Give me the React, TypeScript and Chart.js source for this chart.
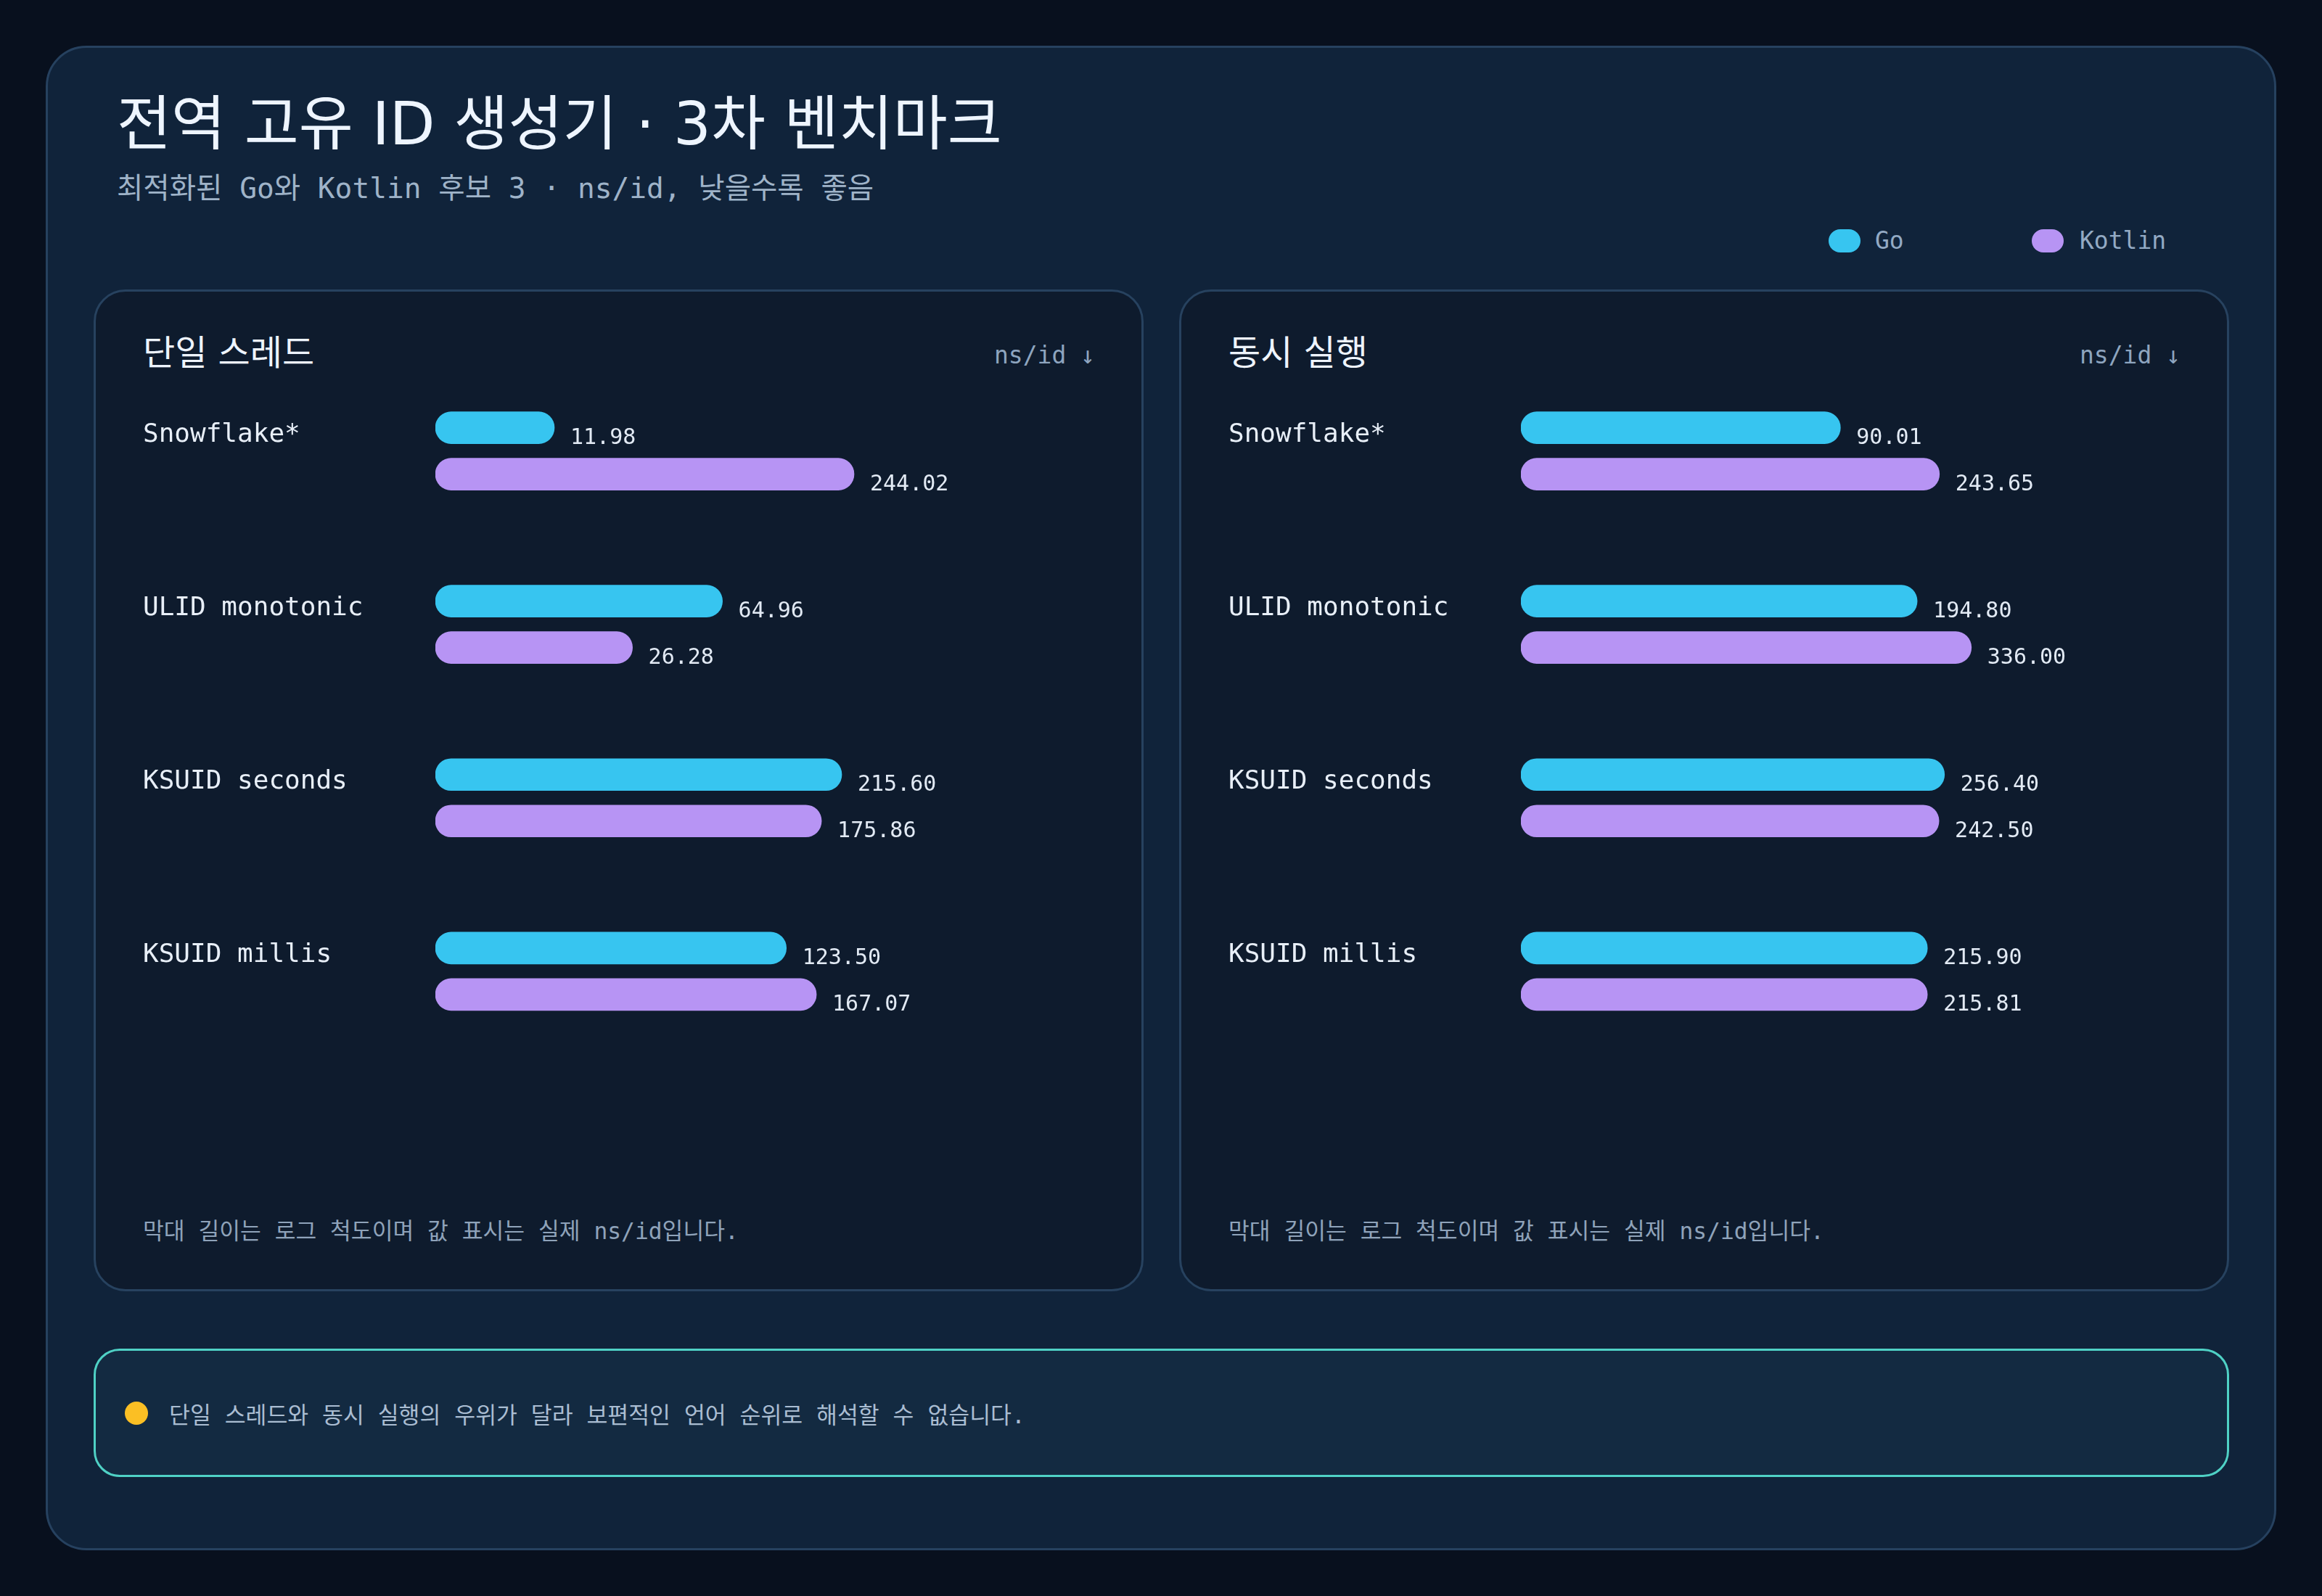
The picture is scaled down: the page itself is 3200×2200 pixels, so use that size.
import React, { useEffect, useRef } from 'react';
import { Chart, registerables } from 'chart.js';

Chart.register(...registerables);

// ---------- data ----------
const categories = ['Snowflake*', 'ULID monotonic', 'KSUID seconds', 'KSUID millis'];
const seriesNames = ['Go', 'Kotlin'];
const singleThreadGo = [11.98, 64.96, 215.6, 123.5];
const singleThreadKotlin = [244.02, 26.28, 175.86, 167.07];
const concurrentGo = [90.01, 194.8, 256.4, 215.9];
const concurrentKotlin = [243.65, 336.0, 242.5, 215.81];

const titleText = '전역 고유 ID 생성기 · 3차 벤치마크';
const subtitleText = '최적화된 Go와 Kotlin 후보 3 · ns/id, 낮을수록 좋음';
const panelTitles = ['단일 스레드', '동시 실행'];
const unitText = 'ns/id ↓';
const footnoteText = '막대 길이는 로그 척도이며 값 표시는 실제 ns/id입니다.';
const noteText = '단일 스레드와 동시 실행의 우위가 달라 보편적인 언어 순위로 해석할 수 없습니다.';

// ---------- style ----------
const GO_COLOR = '#37c5f0';
const KOTLIN_COLOR = '#b794f4';
const MONO = "'DejaVu Sans Mono', 'Noto Sans CJK KR', monospace";
const SANS = "'DejaVu Sans', 'Noto Sans CJK KR', sans-serif";
const X_MIN = 3.62;
const X_MAX = 2578;

const valueLabelPlugin = {
  id: 'valueLabels',
  afterDatasetsDraw(chart: any) {
    const ctx = chart.ctx;
    ctx.save();
    ctx.font = `30px ${MONO}`;
    ctx.fillStyle = '#e2eaf4';
    ctx.textAlign = 'left';
    ctx.textBaseline = 'alphabetic';
    chart.data.datasets.forEach((ds: any, di: number) => {
      const meta = chart.getDatasetMeta(di);
      meta.data.forEach((bar: any, i: number) => {
        const v = ds.data[i] as number;
        ctx.fillText(v.toFixed(2), bar.x + 22, bar.y + 22);
      });
    });
    ctx.restore();
  },
};

function BarPanel({ go, kotlin }: { go: number[]; kotlin: number[] }) {
  const ref = useRef<HTMLCanvasElement | null>(null);
  useEffect(() => {
    if (!ref.current) return;
    const chart = new Chart(ref.current, {
      type: 'bar',
      data: {
        labels: categories,
        datasets: [
          {
            label: seriesNames[0],
            data: go,
            backgroundColor: GO_COLOR,
            borderRadius: 22,
            borderSkipped: false,
            barThickness: 64,
            maxBarThickness: 44,
          },
          {
            label: seriesNames[1],
            data: kotlin,
            backgroundColor: KOTLIN_COLOR,
            borderRadius: 22,
            borderSkipped: false,
            barThickness: 64,
            maxBarThickness: 44,
          },
        ],
      },
      options: {
        indexAxis: 'y',
        responsive: false,
        animation: false,
        devicePixelRatio: 1,
        layout: { padding: { left: 47, right: 50, top: 22, bottom: 18 } },
        plugins: { legend: { display: false }, tooltip: { enabled: false } },
        scales: {
          x: { type: 'logarithmic', min: X_MIN, max: X_MAX, display: false },
          y: {
            grid: { display: false },
            border: { display: false },
            ticks: {
              color: '#e8eff8',
              font: { family: MONO, size: 36 },
              crossAlign: 'far',
              labelOffset: -22,
              padding: 0,
              autoSkip: false,
            },
            afterFit: (scale: any) => {
              scale.width = 403;
            },
          },
        },
      } as any,
      plugins: [valueLabelPlugin],
    });
    return () => chart.destroy();
  }, [go, kotlin]);
  return (
    <canvas
      ref={ref}
      width={1400}
      height={1000}
      style={{ position: 'absolute', left: 21, top: 81, width: 1400, height: 1000 }}
    />
  );
}

function Panel({ left, title, go, kotlin }: { left: number; title: string; go: number[]; kotlin: number[] }) {
  return (
    <div
      style={{
        position: 'absolute',
        left,
        top: 399,
        width: 1447,
        height: 1381,
        boxSizing: 'border-box',
        background: '#0e1b2d',
        border: '3px solid #27425f',
        borderRadius: 44,
      }}
    >
      <div
        style={{
          position: 'absolute',
          left: 65,
          top: 60,
          fontFamily: SANS,
          fontSize: 48,
          fontWeight: 400,
          lineHeight: 1,
          color: '#eef4fd',
          whiteSpace: 'nowrap',
        }}
      >
        {title}
      </div>
      <div
        style={{
          position: 'absolute',
          right: 64,
          top: 71,
          fontFamily: MONO,
          fontSize: 33,
          lineHeight: 1,
          color: '#8ea5bf',
          whiteSpace: 'nowrap',
        }}
      >
        {unitText}
      </div>
      <div style={{ position: 'absolute', left: -3, top: -3 }}>
        <BarPanel go={go} kotlin={kotlin} />
      </div>
      <div
        style={{
          position: 'absolute',
          left: 65,
          top: 1280,
          fontFamily: MONO,
          fontSize: 31.3,
          lineHeight: 1,
          color: '#8fa3ba',
          whiteSpace: 'nowrap',
        }}
      >
        {footnoteText}
      </div>
    </div>
  );
}

export default function App() {
  return (
    <div
      style={{
        position: 'absolute',
        left: 0,
        top: 0,
        width: 3200,
        height: 2200,
        background: '#08101e',
        overflow: 'hidden',
      }}
    >
      <div
        style={{
          position: 'absolute',
          left: 63,
          top: 63,
          width: 3074,
          height: 2074,
          boxSizing: 'border-box',
          background: '#10233a',
          border: '3px solid #26415f',
          borderRadius: 56,
        }}
      />
      <div
        style={{
          position: 'absolute',
          left: 161,
          top: 130,
          fontFamily: SANS,
          fontSize: 81.5,
          fontWeight: 400,
          lineHeight: 1,
          color: '#eef5ff',
          whiteSpace: 'nowrap',
        }}
      >
        {titleText}
      </div>
      <div
        style={{
          position: 'absolute',
          left: 161,
          top: 240,
          fontFamily: MONO,
          fontSize: 39.5,
          lineHeight: 1,
          color: '#9fb3c8',
          whiteSpace: 'nowrap',
        }}
      >
        {subtitleText}
      </div>
      {/* legend */}
      {seriesNames.map((name, i) => (
        <React.Fragment key={name}>
          <div
            style={{
              position: 'absolute',
              left: i === 0 ? 2520 : 2800,
              top: 316,
              width: 44,
              height: 32,
              borderRadius: 16,
              background: i === 0 ? GO_COLOR : KOTLIN_COLOR,
            }}
          />
          <div
            style={{
              position: 'absolute',
              left: i === 0 ? 2584 : 2866,
              top: 315,
              fontFamily: MONO,
              fontSize: 33,
              lineHeight: 1,
              color: '#93aac4',
              whiteSpace: 'nowrap',
            }}
          >
            {name}
          </div>
        </React.Fragment>
      ))}
      <Panel left={129} title={panelTitles[0]} go={singleThreadGo} kotlin={singleThreadKotlin} />
      <Panel left={1625} title={panelTitles[1]} go={concurrentGo} kotlin={concurrentKotlin} />
      {/* note */}
      <div
        style={{
          position: 'absolute',
          left: 129,
          top: 1859,
          width: 2943,
          height: 177,
          boxSizing: 'border-box',
          background: '#132a41',
          border: '3px solid #4fd1c5',
          borderRadius: 36,
        }}
      />
      <div
        style={{
          position: 'absolute',
          left: 172,
          top: 1932,
          width: 32,
          height: 32,
          borderRadius: 16,
          background: '#fbbf24',
        }}
      />
      <div
        style={{
          position: 'absolute',
          left: 233,
          top: 1936,
          fontFamily: MONO,
          fontSize: 31.4,
          lineHeight: 1,
          color: '#aabdd2',
          whiteSpace: 'nowrap',
        }}
      >
        {noteText}
      </div>
    </div>
  );
}
